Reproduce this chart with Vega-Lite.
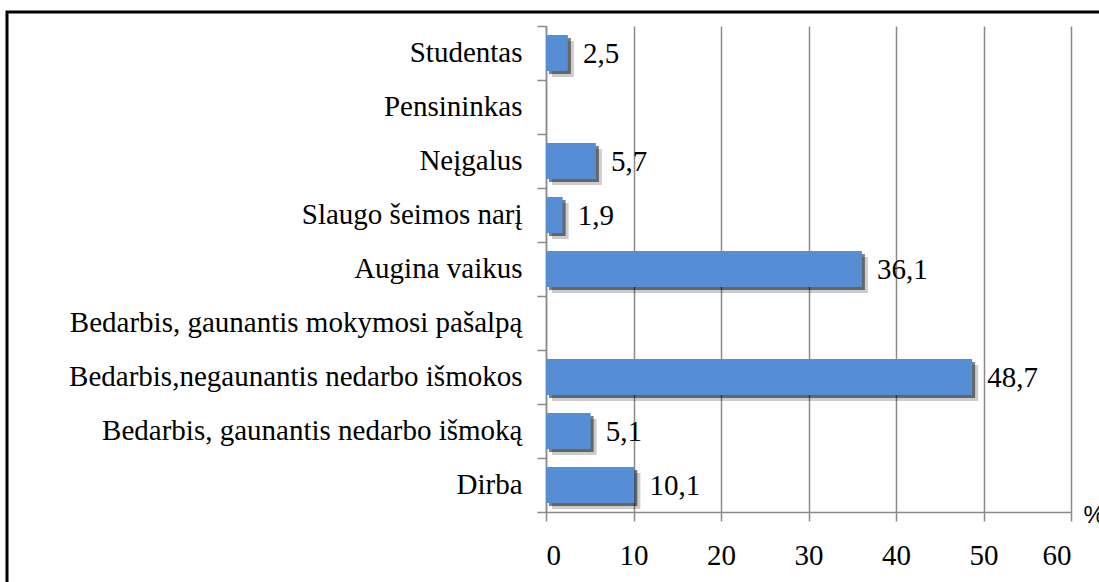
{
  "$schema": "https://vega.github.io/schema/vega-lite/v6.json",
  "width": 525,
  "height": 486,
  "autosize": {"type": "none"},
  "padding": {"left": 546, "top": 26, "right": 28, "bottom": 70},
  "background": "white",
  "config": {
    "view": {"stroke": null},
    "font": "Liberation Serif",
    "axis": {
      "domainColor": "#8a8a8a",
      "domainWidth": 1.5,
      "tickColor": "#8a8a8a",
      "tickWidth": 1.5,
      "gridColor": "#8a8a8a",
      "gridWidth": 1.5,
      "labelColor": "black",
      "labelFont": "Liberation Serif",
      "labelFontSize": 29
    }
  },
  "datasets": {
    "rows": [
      {"category": "Studentas", "value": 2.5, "label": "2,5"},
      {"category": "Pensininkas", "value": 0, "label": ""},
      {"category": "Neįgalus", "value": 5.7, "label": "5,7"},
      {"category": "Slaugo šeimos narį", "value": 1.9, "label": "1,9"},
      {"category": "Augina vaikus", "value": 36.1, "label": "36,1"},
      {"category": "Bedarbis, gaunantis mokymosi pašalpą", "value": 0, "label": ""},
      {"category": "Bedarbis,negaunantis nedarbo išmokos", "value": 48.7, "label": "48,7"},
      {"category": "Bedarbis, gaunantis nedarbo išmoką", "value": 5.1, "label": "5,1"},
      {"category": "Dirba", "value": 10.1, "label": "10,1"}
    ],
    "frame": [{"fx1": -61.6, "fx2": 80, "fy1": 1.0288, "fy2": -0.5}]
  },
  "resolve": {"scale": {"x": "independent", "y": "independent"}},
  "layer": [
    {
      "data": {"name": "frame"},
      "mark": {"type": "rect", "fill": null, "stroke": "black", "strokeWidth": 3, "clip": false},
      "encoding": {
        "x": {"field": "fx1", "type": "quantitative", "scale": {"domain": [0, 60], "nice": false, "zero": false}, "axis": null},
        "x2": {"field": "fx2"},
        "y": {"field": "fy1", "type": "quantitative", "scale": {"domain": [0, 1], "nice": false, "zero": false}, "axis": null},
        "y2": {"field": "fy2"}
      }
    },
    {
      "data": {"name": "rows"},
      "encoding": {
        "y": {
          "field": "category",
          "type": "nominal",
          "sort": null,
          "scale": {"paddingInner": 0, "paddingOuter": 0},
          "axis": {
            "title": null,
            "tickSize": 9,
            "labelPadding": 15,
            "labelLimit": 600,
            "bandPosition": 1,
            "tickExtra": true,
            "grid": false
          }
        },
        "x": {
          "field": "value",
          "type": "quantitative",
          "scale": {"domain": [0, 60], "nice": false},
          "axis": {
            "values": [0, 10, 20, 30, 40, 50, 60],
            "grid": true,
            "tickSize": 9,
            "labelPadding": 20,
            "title": "%",
            "titleFont": "Liberation Sans",
            "titleFontSize": 24,
            "titleFontWeight": "normal",
            "titleColor": "black",
            "titleX": 537,
            "titleY": 10,
            "titleAlign": "left",
            "titleBaseline": "alphabetic",
            "titleAnchor": null
          }
        }
      },
      "layer": [
        {"mark": {"type": "bar", "color": "black", "opacity": 0.2, "height": {"band": 0.667}, "xOffset": 6, "yOffset": 6}},
        {"mark": {"type": "bar", "color": "black", "opacity": 0.5, "height": {"band": 0.667}, "xOffset": 3, "yOffset": 3}},
        {"mark": {"type": "bar", "color": "#558ED5", "height": {"band": 0.667}}},
        {
          "mark": {"type": "text", "align": "left", "baseline": "middle", "dx": 15, "dy": 1, "fontSize": 29, "font": "Liberation Serif", "color": "black"},
          "encoding": {"text": {"field": "label"}}
        }
      ]
    }
  ]
}
